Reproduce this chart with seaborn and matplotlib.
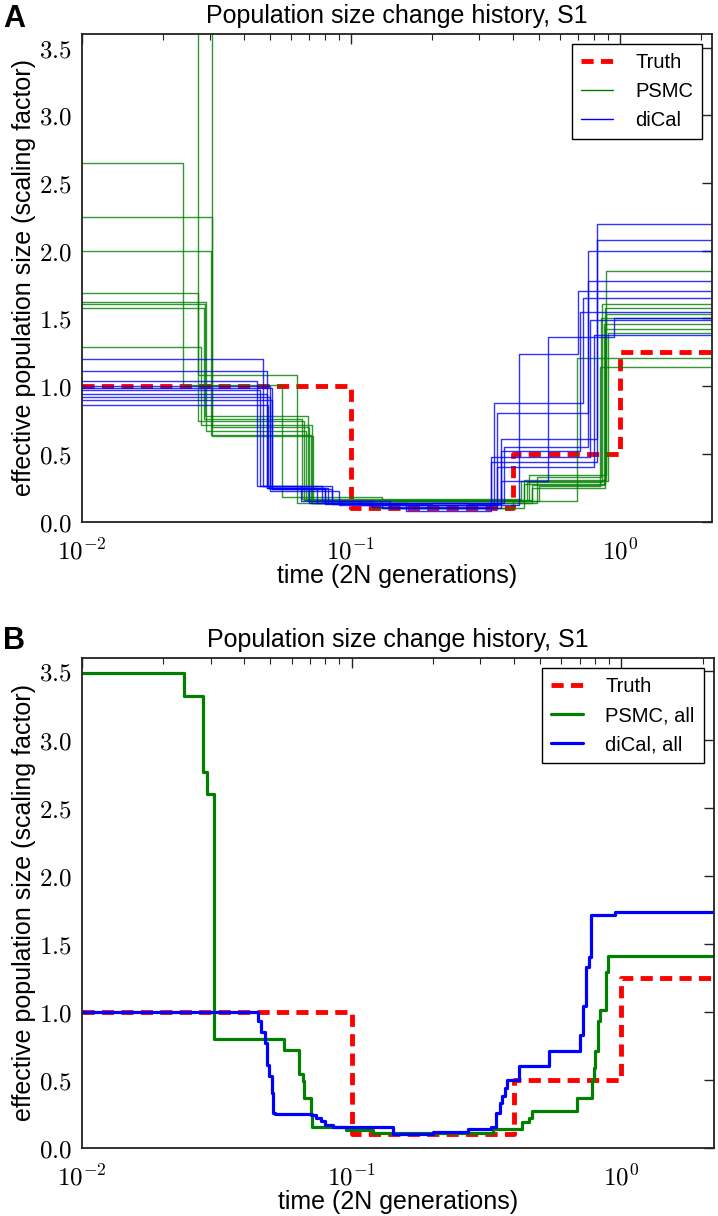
import numpy as np
import pandas as pd
import matplotlib
matplotlib.use("Agg")
import matplotlib.pyplot as plt
from matplotlib.lines import Line2D
from matplotlib.ticker import FixedLocator, FuncFormatter, LogLocator, NullFormatter
import seaborn as sns

# Truth (steps: start time, size)
truth_t = [0.01, 0.1, 0.4, 1.0]
truth_n = [1.0, 0.1, 0.5, 1.25]

# Panel A: individual PSMC runs (start times, sizes)
psmc_t = [
    [0.01, 0.027, 0.063, 0.12, 0.44, 0.89],
    [0.01, 0.0305, 0.072, 0.45, 0.86],
    [0.01, 0.0237, 0.0553, 0.13, 0.40, 0.69],
    [0.01, 0.0305, 0.070, 0.46, 0.89],
    [0.01, 0.0301, 0.071, 0.47, 0.87],
    [0.01, 0.027, 0.067, 0.44, 0.88],
    [0.01, 0.0286, 0.069, 0.50, 0.84],
    [0.01, 0.0284, 0.066, 0.43, 0.90],
    [0.01, 0.0276, 0.0714, 0.49, 0.85],
    [0.01, 0.029, 0.068, 0.47, 0.88],
]
psmc_n = [
    [4.8, 1.08, 0.14, 0.10, 0.31, 1.85],
    [4.2, 0.63, 0.15, 0.29, 1.61],
    [2.65, 1.01, 0.18, 0.10, 0.15, 1.21],
    [2.25, 0.70, 0.15, 0.345, 1.53],
    [2.0, 0.64, 0.14, 0.27, 1.46],
    [1.69, 0.74, 0.16, 0.28, 1.42],
    [1.61, 0.78, 0.15, 0.26, 1.14],
    [1.58, 0.76, 0.17, 0.30, 1.39],
    [1.29, 0.71, 0.14, 0.33, 1.50],
    [1.62, 0.67, 0.16, 0.25, 1.58],
]

# Panel A: individual diCal runs
dical_t = [
    [0.01, 0.047, 0.078, 0.12, 0.33, 0.82],
    [0.01, 0.0487, 0.082, 0.13, 0.36, 0.82],
    [0.01, 0.0447, 0.065, 0.11, 0.35, 0.76],
    [0.01, 0.051, 0.085, 0.20, 0.37, 0.76],
    [0.01, 0.0487, 0.07, 0.16, 0.42, 0.70],
    [0.01, 0.050, 0.09, 0.34, 0.73],
    [0.01, 0.051, 0.08, 0.16, 0.33, 0.77],
    [0.01, 0.049, 0.075, 0.36, 0.54, 0.95],
    [0.01, 0.046, 0.085, 0.14, 0.35, 0.80],
    [0.01, 0.050, 0.08, 0.27, 0.36, 0.71],
]
dical_n = [
    [1.20, 0.26, 0.15, 0.11, 0.44, 2.20],
    [1.11, 0.25, 0.14, 0.10, 0.61, 2.08],
    [1.04, 0.26, 0.15, 0.12, 0.80, 2.00],
    [0.99, 0.24, 0.13, 0.14, 0.55, 1.78],
    [0.94, 0.25, 0.14, 0.12, 1.24, 1.70],
    [0.92, 0.23, 0.12, 0.875, 1.65],
    [0.90, 0.24, 0.13, 0.08, 0.48, 1.49],
    [0.86, 0.25, 0.14, 0.30, 1.36, 1.50],
    [0.97, 0.26, 0.15, 0.10, 0.40, 1.38],
    [1.00, 0.25, 0.14, 0.13, 0.52, 1.55],
]

# Panel B: combined estimates
psmc_all_t = [0.01, 0.0239, 0.0281, 0.0290, 0.0308, 0.056, 0.064, 0.066, 0.0665,
              0.071, 0.0715, 0.095, 0.12, 0.333, 0.43, 0.456, 0.465, 0.49, 0.687,
              0.78, 0.795, 0.80, 0.82, 0.835, 0.88, 0.895]
psmc_all_n = [3.49, 3.32, 2.76, 2.60, 0.80, 0.72, 0.54, 0.49, 0.37,
              0.25, 0.15, 0.13, 0.11, 0.14, 0.19, 0.22, 0.27, 0.27, 0.37,
              0.50, 0.59, 0.71, 0.93, 1.01, 1.29, 1.41]
dical_all_t = [0.01, 0.0449, 0.0463, 0.0476, 0.0485, 0.0493, 0.0506, 0.0512, 0.0518,
               0.071, 0.074, 0.077, 0.080, 0.085, 0.142, 0.20, 0.27, 0.33,
               0.344, 0.355, 0.362, 0.37, 0.378, 0.419, 0.541, 0.70, 0.72,
               0.74, 0.76, 0.77, 0.81, 0.945]
dical_all_n = [1.0, 0.93, 0.85, 0.77, 0.61, 0.53, 0.40, 0.26, 0.25,
               0.24, 0.22, 0.20, 0.17, 0.15, 0.10, 0.12, 0.14, 0.15,
               0.26, 0.33, 0.38, 0.44, 0.50, 0.60, 0.71, 0.83, 1.04,
               1.33, 1.40, 1.71, 1.71, 1.73]

T_MAX = 2.2
RED, GREEN, BLUE = "#ff0000", "#007f00", "#0000ff"
DASH = (0, (2.5, 1.5))


def steps_frame(t_lists, n_lists, method):
    rows = []
    for k, (t, n) in enumerate(zip(t_lists, n_lists)):
        tt = list(t) + [T_MAX]
        nn = list(n) + [n[-1]]
        rows.append(pd.DataFrame({"time": tt, "size": nn, "run": k, "method": method}))
    return pd.concat(rows, ignore_index=True)


def style_axes(ax):
    ax.set_xscale("log")
    ax.set_xlim(0.01, T_MAX)
    ax.set_ylim(0, 3.6)
    ax.xaxis.set_major_locator(FixedLocator([0.01, 0.1, 1.0]))
    ax.xaxis.set_major_formatter(FuncFormatter(lambda v, p: r"$10^{%d}$" % round(np.log10(v))))
    ax.xaxis.set_minor_locator(LogLocator(base=10, subs=np.arange(2, 10)))
    ax.xaxis.set_minor_formatter(NullFormatter())
    ax.yaxis.set_major_locator(FixedLocator([0, 0.5, 1.0, 1.5, 2.0, 2.5, 3.0, 3.5]))
    ax.yaxis.set_major_formatter(FuncFormatter(lambda v, p: r"$%.1f$" % v))
    ax.tick_params(which="both", direction="in", top=True, right=True, labelsize=18,
                   color="#222222", labelcolor="black")
    ax.tick_params(axis="x", pad=12)
    ax.tick_params(axis="y", pad=7)
    ax.tick_params(which="major", length=7, width=1)
    ax.tick_params(which="minor", length=4, width=0.8)
    for s in ax.spines.values():
        s.set_linewidth(1.3)
        s.set_color("#222222")
    ax.set_title("Population size change history, S1", fontsize=18, pad=8)
    ax.set_xlabel("time (2N generations)", fontsize=18, labelpad=0)
    ax.set_ylabel("effective population size (scaling factor)", fontsize=18, labelpad=2)


def add_legend(ax, labels, lw):
    ax.legend(handles=[Line2D([], [], color=RED, lw=3.5, linestyle=DASH),
                       Line2D([], [], color=GREEN, lw=lw),
                       Line2D([], [], color=BLUE, lw=lw)],
              labels=labels, loc="upper right", fontsize=14.5,
              fancybox=False, edgecolor="black", framealpha=1,
              handlelength=1.6, borderpad=0.45, labelspacing=0.5,
              handletextpad=1.1, borderaxespad=0.5)


def main():
    sns.set_style("white")
    plt.rcParams["font.family"] = ["Liberation Sans", "DejaVu Sans"]
    plt.rcParams["mathtext.fontset"] = "cm"
    plt.rcParams["text.color"] = "black"
    plt.rcParams["axes.labelcolor"] = "black"

    fig = plt.figure(figsize=(7.18, 12.16), dpi=100)
    axA = fig.add_axes([0.114, 0.571, 0.878, 0.401])
    axB = fig.add_axes([0.114, 0.056, 0.880, 0.403])

    truth = pd.DataFrame({"time": truth_t + [T_MAX], "size": truth_n + [truth_n[-1]]})

    # panel A
    sns.lineplot(data=truth, x="time", y="size", ax=axA, color=RED, lw=3.5,
                 linestyle=DASH, drawstyle="steps-post", estimator=None, sort=False)
    runs = pd.concat([steps_frame(psmc_t, psmc_n, "PSMC"),
                      steps_frame(dical_t, dical_n, "diCal")], ignore_index=True)
    sns.lineplot(data=runs, x="time", y="size", hue="method", units="run",
                 palette={"PSMC": GREEN, "diCal": BLUE}, estimator=None, sort=False,
                 drawstyle="steps-post", lw=1.0, alpha=0.8, legend=False, ax=axA)
    style_axes(axA)
    add_legend(axA, ["Truth", "PSMC", "diCal"], 1.0)

    # panel B
    sns.lineplot(data=truth, x="time", y="size", ax=axB, color=RED, lw=3.5,
                 linestyle=DASH, drawstyle="steps-post", estimator=None, sort=False)
    comb = pd.concat([steps_frame([psmc_all_t], [psmc_all_n], "PSMC, all"),
                      steps_frame([dical_all_t], [dical_all_n], "diCal, all")], ignore_index=True)
    sns.lineplot(data=comb, x="time", y="size", hue="method",
                 palette={"PSMC, all": GREEN, "diCal, all": BLUE}, estimator=None, sort=False,
                 drawstyle="steps-post", lw=2.3, legend=False, ax=axB)
    style_axes(axB)
    add_legend(axB, ["Truth", "PSMC, all", "diCal, all"], 2.3)

    fig.text(0.004, 0.997, "A", fontsize=22, fontweight="bold", va="top", color="black")
    fig.text(0.004, 0.485, "B", fontsize=22, fontweight="bold", va="top", color="black")

    fig.savefig("out.png", dpi=100)


if __name__ == "__main__":
    main()
